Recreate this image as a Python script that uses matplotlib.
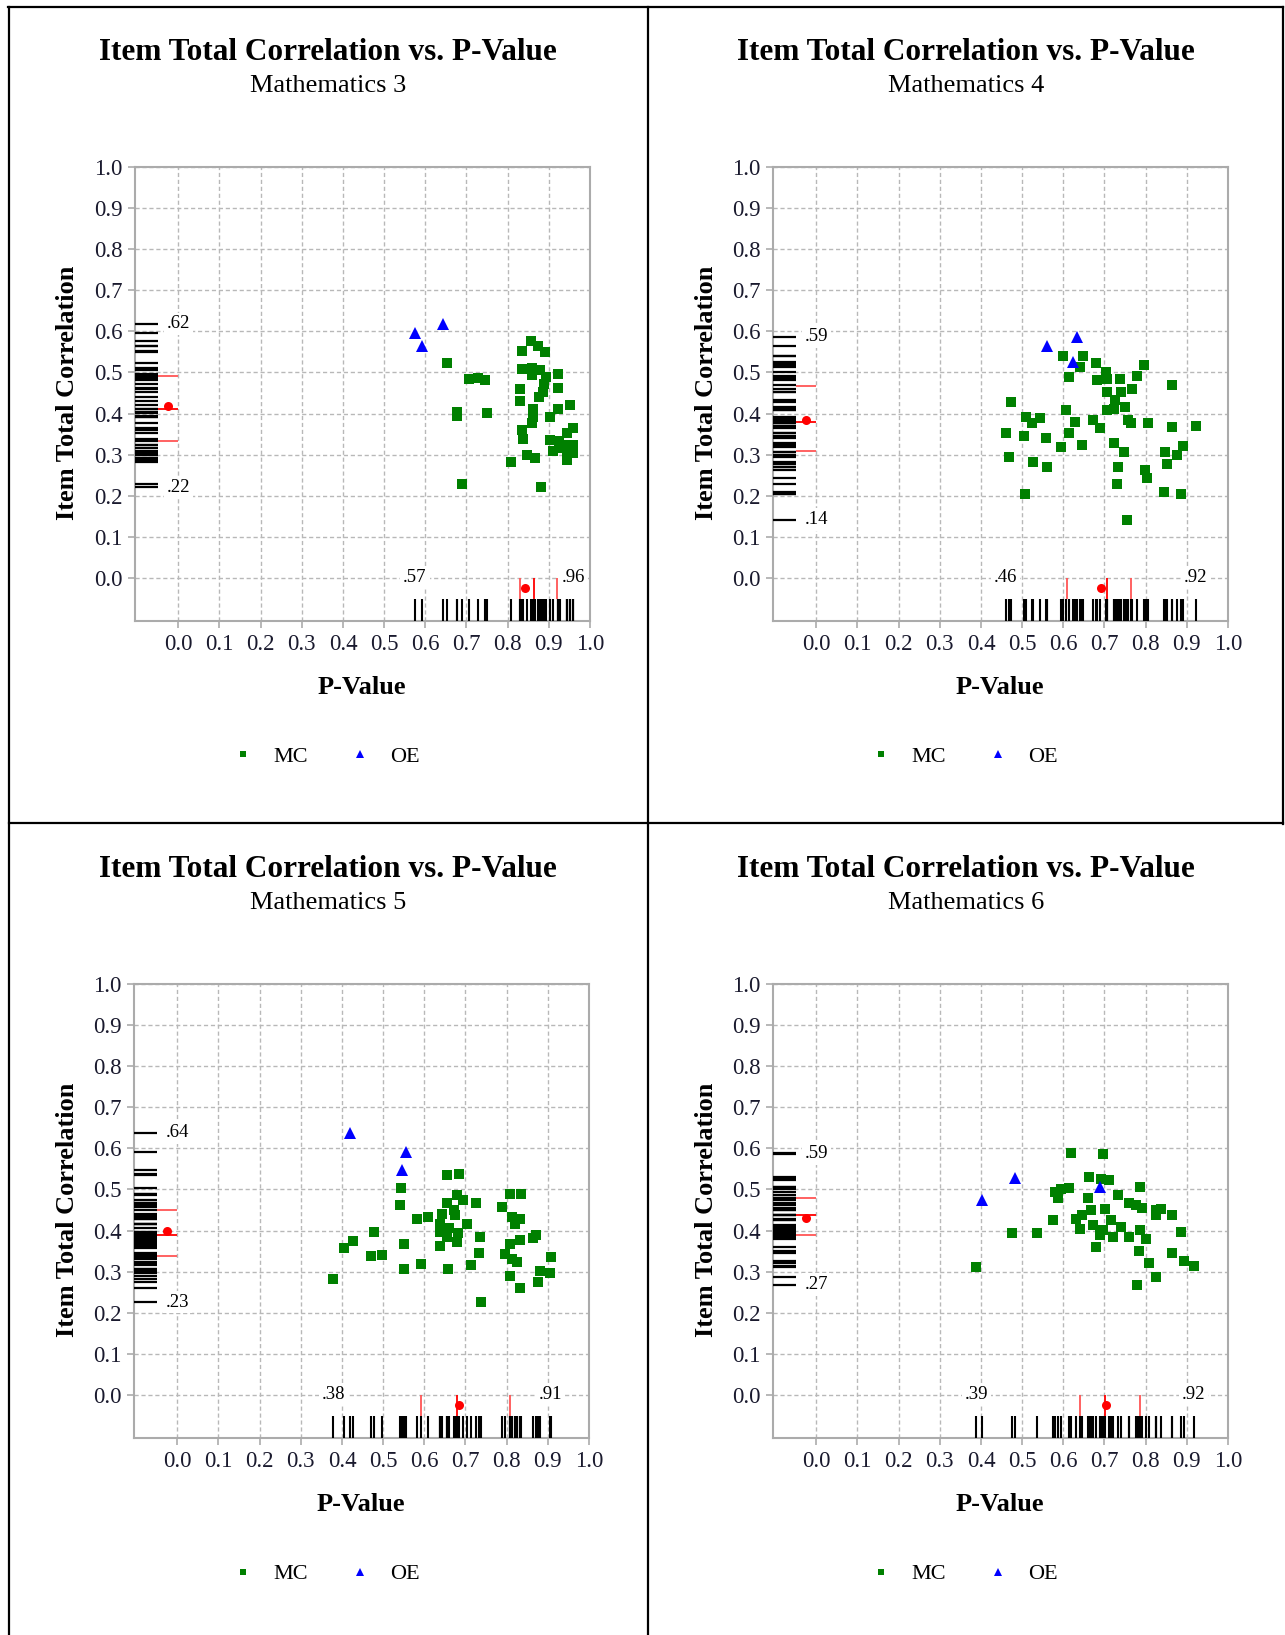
import numpy as np
import matplotlib.pyplot as plt
from matplotlib.lines import Line2D

plt.rcParams['font.family'] = ['Liberation Serif', 'DejaVu Serif']

# ---- data: (p-value, item-total correlation) per item ----
m3_mc_p = [0.856, 0.836, 0.874, 0.890, 0.836, 0.858, 0.878, 0.860, 0.894, 0.923,
           0.888, 0.923, 0.830, 0.885, 0.877, 0.830, 0.952, 0.862, 0.923, 0.904,
           0.862, 0.860, 0.834, 0.959, 0.943, 0.838, 0.902, 0.925, 0.943, 0.959,
           0.909, 0.927, 0.943, 0.959, 0.846, 0.866, 0.943, 0.807, 0.880, 0.690,
           0.677, 0.677, 0.749, 0.652, 0.705, 0.729, 0.745]
m3_mc_r = [0.576, 0.551, 0.565, 0.549, 0.509, 0.510, 0.505, 0.493, 0.489, 0.497,
           0.473, 0.462, 0.459, 0.452, 0.440, 0.430, 0.420, 0.412, 0.410, 0.392,
           0.392, 0.376, 0.360, 0.364, 0.352, 0.337, 0.335, 0.333, 0.323, 0.323,
           0.309, 0.315, 0.299, 0.303, 0.299, 0.291, 0.287, 0.282, 0.221, 0.228,
           0.404, 0.394, 0.402, 0.523, 0.485, 0.486, 0.482]
m3_oe_p = [0.575, 0.591, 0.644]
m3_oe_r = [0.596, 0.565, 0.618]

m4_mc_p = [0.599, 0.648, 0.641, 0.615, 0.680, 0.704, 0.681, 0.706, 0.738, 0.778,
           0.796, 0.863, 0.706, 0.740, 0.766, 0.726, 0.750, 0.706, 0.723, 0.473,
           0.606, 0.510, 0.543, 0.524, 0.629, 0.673, 0.690, 0.758, 0.764, 0.806,
           0.865, 0.922, 0.460, 0.504, 0.558, 0.615, 0.595, 0.645, 0.722, 0.748,
           0.847, 0.890, 0.875, 0.852, 0.469, 0.526, 0.560, 0.732, 0.798, 0.804,
           0.730, 0.506, 0.844, 0.887, 0.754]
m4_mc_r = [0.540, 0.541, 0.514, 0.488, 0.522, 0.502, 0.481, 0.485, 0.485, 0.491,
           0.518, 0.469, 0.453, 0.453, 0.459, 0.434, 0.417, 0.409, 0.410, 0.429,
           0.409, 0.391, 0.388, 0.376, 0.380, 0.384, 0.364, 0.384, 0.378, 0.378,
           0.367, 0.370, 0.352, 0.345, 0.340, 0.352, 0.318, 0.323, 0.329, 0.307,
           0.307, 0.320, 0.299, 0.277, 0.294, 0.281, 0.269, 0.269, 0.263, 0.243,
           0.229, 0.205, 0.209, 0.205, 0.142]
m4_oe_p = [0.560, 0.633, 0.623]
m4_oe_r = [0.564, 0.587, 0.526]

m5_mc_p = [0.655, 0.685, 0.543, 0.541, 0.679, 0.695, 0.655, 0.726, 0.671, 0.643,
           0.583, 0.609, 0.675, 0.637, 0.703, 0.659, 0.639, 0.683, 0.655, 0.680,
           0.639, 0.736, 0.732, 0.551, 0.478, 0.428, 0.404, 0.470, 0.498, 0.379,
           0.551, 0.591, 0.658, 0.713, 0.738, 0.808, 0.834, 0.788, 0.812, 0.832,
           0.820, 0.864, 0.872, 0.832, 0.808, 0.796, 0.812, 0.824, 0.907, 0.880,
           0.906, 0.808, 0.875, 0.832]
m5_mc_r = [0.534, 0.538, 0.504, 0.461, 0.486, 0.474, 0.466, 0.466, 0.449, 0.441,
           0.427, 0.432, 0.437, 0.417, 0.417, 0.405, 0.397, 0.393, 0.385, 0.372,
           0.362, 0.385, 0.346, 0.367, 0.397, 0.374, 0.358, 0.338, 0.340, 0.283,
           0.306, 0.318, 0.306, 0.316, 0.226, 0.490, 0.490, 0.457, 0.433, 0.427,
           0.417, 0.382, 0.389, 0.378, 0.368, 0.344, 0.330, 0.324, 0.336, 0.302,
           0.296, 0.289, 0.275, 0.261]
m5_oe_p = [0.420, 0.555, 0.545]
m5_oe_r = [0.638, 0.591, 0.548]

m6_mc_p = [0.619, 0.696, 0.662, 0.692, 0.710, 0.787, 0.579, 0.595, 0.614, 0.587,
           0.660, 0.732, 0.760, 0.776, 0.792, 0.825, 0.837, 0.825, 0.865, 0.668,
           0.702, 0.646, 0.630, 0.575, 0.716, 0.672, 0.740, 0.787, 0.641, 0.696,
           0.720, 0.688, 0.760, 0.800, 0.885, 0.475, 0.537, 0.680, 0.784, 0.865,
           0.808, 0.893, 0.917, 0.825, 0.780, 0.389]
m6_mc_r = [0.588, 0.586, 0.530, 0.526, 0.524, 0.506, 0.494, 0.502, 0.504, 0.478,
           0.478, 0.486, 0.467, 0.462, 0.456, 0.451, 0.453, 0.437, 0.437, 0.449,
           0.453, 0.437, 0.429, 0.425, 0.425, 0.413, 0.409, 0.402, 0.403, 0.401,
           0.385, 0.389, 0.385, 0.379, 0.397, 0.394, 0.394, 0.360, 0.351, 0.346,
           0.321, 0.326, 0.313, 0.287, 0.268, 0.310]
m6_oe_p = [0.402, 0.483, 0.688]
m6_oe_r = [0.475, 0.529, 0.506]

subjects = ['Mathematics 3', 'Mathematics 4', 'Mathematics 5', 'Mathematics 6']
ticks = [0.0, 0.1, 0.2, 0.3, 0.4, 0.5, 0.6, 0.7, 0.8, 0.9, 1.0]

W, H = 1285, 1635
fig = plt.figure(figsize=(W / 100, H / 100), dpi=100)


def fx(x):
    return x / W


def fy(y):
    return 1 - y / H


def short(v):
    return f"{v:.2f}"[1:]


panels = [
    (m3_mc_p, m3_mc_r, m3_oe_p, m3_oe_r, 135, 167, 328),
    (m4_mc_p, m4_mc_r, m4_oe_p, m4_oe_r, 773, 167, 966),
    (m5_mc_p, m5_mc_r, m5_oe_p, m5_oe_r, 134, 984, 328),
    (m6_mc_p, m6_mc_r, m6_oe_p, m6_oe_r, 773, 984, 966),
]

grey = '#ababab'
tickc = '#1a1a2e'

for i, (mp, mr, op, orr, left, top, cx) in enumerate(panels):
    ax = fig.add_axes([fx(left), fy(top + 454), 455 / W, 454 / H])
    ax.set_xlim(-0.105, 1.0)
    ax.set_ylim(-0.105, 1.0)
    ax.set_xticks(ticks)
    ax.set_yticks(ticks)
    ax.set_xticklabels([f"{t:.1f}" for t in ticks])
    ax.set_yticklabels([f"{t:.1f}" for t in ticks])
    ax.grid(True, color='#b8b8b8', linestyle=(0, (3, 2)), linewidth=1.0)
    ax.set_axisbelow(True)
    for s in ax.spines.values():
        s.set_color(grey)
        s.set_linewidth(1.5)
    ax.tick_params(direction='out', length=5, width=1.2, color=grey,
                   labelsize=16.5, labelcolor=tickc, pad=4)

    all_p = np.array(mp + op)
    all_r = np.array(mr + orr)

    # rugs
    ax.hlines(all_r, -0.105, -0.05, color='black', lw=1.6, zorder=3)
    ax.vlines(all_p, -0.105, -0.052, color='black', lw=1.5, zorder=3)

    # quartiles and mean
    rq = np.percentile(all_r, [25, 50, 75])
    pq = np.percentile(all_p, [25, 50, 75])
    ax.hlines([rq[0], rq[2]], -0.05, 0.0, color='#ff5555', lw=1.3, zorder=3)
    ax.hlines(rq[1], -0.05, 0.0, color='red', lw=1.3, zorder=3)
    ax.vlines([pq[0], pq[2]], -0.052, 0.0, color='#ff5555', lw=1.3, zorder=3)
    ax.vlines(pq[1], -0.052, 0.0, color='red', lw=1.3, zorder=3)
    ax.plot(-0.025, all_r.mean(), 'o', color='red', ms=6.5, mew=0, zorder=4)
    ax.plot(all_p.mean(), -0.025, 'o', color='red', ms=6.5, mew=0, zorder=4)

    # min / max labels
    box = dict(facecolor='white', edgecolor='none', pad=2)
    for v in (all_r.max(), all_r.min()):
        ax.text(-0.028, v, short(v), ha='left', va='center', fontsize=13.5,
                bbox=box, zorder=10, clip_on=False)
    for v in (all_p.min(), all_p.max()):
        ax.text(v, 0.0, short(v), ha='center', va='center', fontsize=13.5,
                bbox=box, zorder=10, clip_on=False)

    # points
    ax.plot(mp, mr, 's', color='#008000', ms=6.8, mew=0, zorder=5)
    ax.plot(op, orr, '^', color='#0000ff', ms=8.5, mew=0, zorder=5)

    # text
    dy = top - 167
    fig.text(fx(cx), fy(52 + dy), 'Item Total Correlation vs. P-Value',
             ha='center', va='center', fontsize=22.5, fontweight='bold')
    fig.text(fx(cx), fy(86 + dy), subjects[i], ha='center', va='center',
             fontsize=19)
    fig.text(fx(left + 227), fy(687 + dy), 'P-Value', ha='center',
             va='center', fontsize=19, fontweight='bold')
    fig.text(fx(left - 67), fy(393 + dy), 'Item Total Correlation',
             ha='center', va='center', fontsize=19, fontweight='bold',
             rotation=90)

    h1 = Line2D([], [], marker='s', color='#008000', ls='none', ms=5, mew=0)
    h2 = Line2D([], [], marker='^', color='#0000ff', ls='none', ms=5.5, mew=0)
    ax.legend([h1, h2], ['MC', 'OE'], loc='center', ncol=2, frameon=False,
              fontsize=16, handlelength=0.8, handletextpad=1.0,
              columnspacing=1.9,
              bbox_to_anchor=(fx(cx - 1), fy(757 + dy)),
              bbox_transform=fig.transFigure)

# table-like cell borders
borders = [
    ((8, 1283), (7, 7)),
    ((9, 9), (7, 1635)),
    ((1283, 1283), (7, 824)),
    ((648, 648), (7, 1635)),
    ((9, 1283), (823, 823)),
]
for xs, ys in borders:
    fig.add_artist(Line2D([fx(xs[0]), fx(xs[1])], [fy(ys[0]), fy(ys[1])],
                          transform=fig.transFigure, color='black', lw=1.6))

fig.savefig('out.png', dpi=100, facecolor='white')
